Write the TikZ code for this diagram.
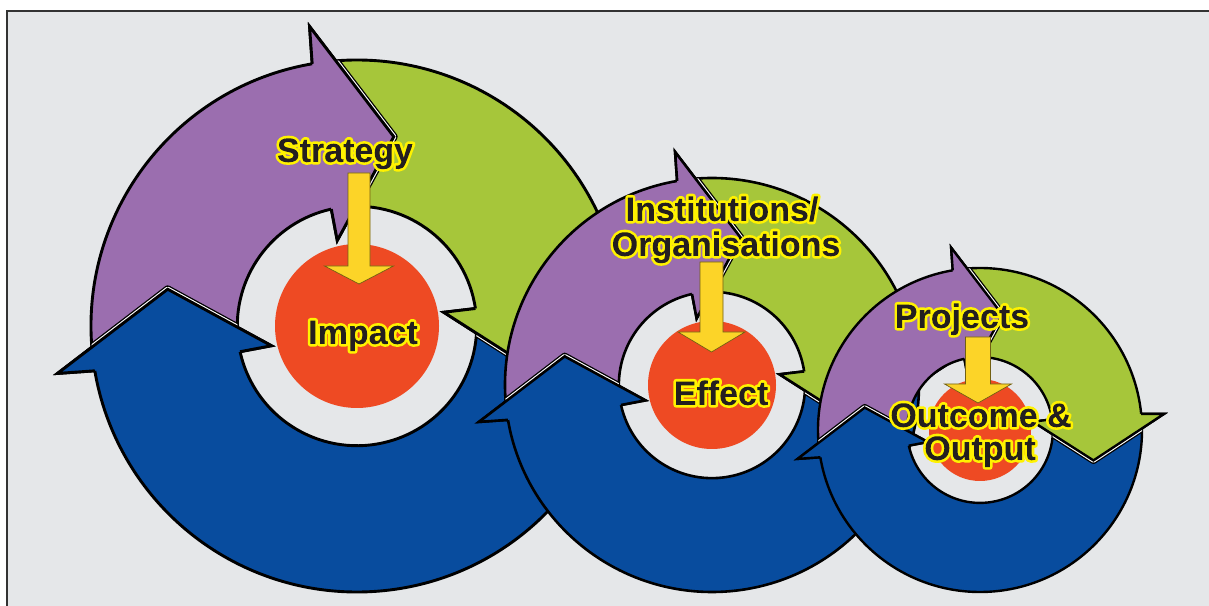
\documentclass[tikz,border=0pt]{standalone}
\usepackage{fontspec}
\setmainfont{Liberation Sans}
\definecolor{bg}{HTML}{E5E7E9}
\definecolor{framec}{HTML}{333333}
\definecolor{cpurple}{HTML}{9B6EAF}
\definecolor{cgreen}{HTML}{A6C63A}
\definecolor{cblue}{HTML}{084C9E}
\definecolor{cred}{HTML}{EE4A23}
\definecolor{cyellow}{HTML}{FCD428}
\definecolor{outl}{HTML}{FFF200}
\definecolor{ink}{HTML}{231F20}

% text with a yellow outline, set once: the glyphs are filled and stroked in yellow and
% become the clip, then a dark rule fills the glyph shapes
\newcommand\outl[1]{\sbox0{#1}%
  \special{x:gsave}%
  \special{pdf:literal direct 1 j 5.2 w 6 Tr}\textcolor{outl}{#1}\special{pdf:literal direct 0 Tr 0 j}%
  \llap{\textcolor{ink}{\rule[\dimexpr-\dp0-2pt\relax]{\wd0}{\dimexpr\ht0+\dp0+4pt\relax}}}%
  \special{x:grestore}}

\def\rw{2.4}
% body of one ring arrow: R, tail angle, tip angle
\newcommand\bodyp[3]{({#2}:{#1}) arc[start angle={#2}, end angle={#3+20.7}, radius={#1}]
  -- ({#3+20}:{1.14*#1}) -- ({#3}:{0.725*#1}) -- ({#3+24}:{0.33*#1})
  -- ({#3+23.4}:{0.45*#1}) arc[start angle={#3+23.4}, end angle={#2}, radius={0.45*#1}] -- cycle}
% head redrawn on top: colour, R, tip
\newcommand\headp[3]{%
  \fill[#1] ({#3+20.7}:{#2}) -- ({#3+20}:{1.14*#2}) -- ({#3}:{0.725*#2}) -- ({#3+24}:{0.33*#2}) -- ({#3+23.4}:{0.45*#2}) -- cycle;
  \draw[black, line width=\rw, line join=miter, miter limit=20] ({#3+20.7}:{#2}) -- ({#3+20}:{1.14*#2}) -- ({#3}:{0.725*#2}) -- ({#3+24}:{0.33*#2}) -- ({#3+23.4}:{0.45*#2});}
% white gap around a head, on the following arrow: R, tip, next tail, next tip
\newcommand\gapp[4]{%
  \begin{scope}
    \clip \bodyp{#1}{#3}{#4};
    \draw[black, line width=\rw+4.8, line join=round] ({#2+20}:{1.14*#1}) -- ({#2}:{0.725*#1}) -- ({#2+24}:{0.33*#1});
    \draw[white, line width=\rw+2.2, line join=round] ({#2+20}:{1.14*#1}) -- ({#2}:{0.725*#1}) -- ({#2+24}:{0.33*#1});
  \end{scope}}
% three arrows of one ring: R, outline width
\newcommand\ringarrows[2]{\def\rw{#2}%
  \filldraw[ring, fill=cpurple] \bodyp{#1}{186}{79};
  \filldraw[ring, fill=cgreen] \bodyp{#1}{96}{-15};
  \filldraw[ring, fill=cblue] \bodyp{#1}{2}{-191};
  \gapp{#1}{79}{96}{-15}\headp{cpurple}{#1}{79}
  \gapp{#1}{-15}{2}{-191}\headp{cgreen}{#1}{-15}
  \gapp{#1}{-191}{186}{79}\headp{cblue}{#1}{-191}}
% yellow block arrow: x, ytop, ybase, ytip, shaft half width, head half width
\newcommand\yarrow[6]{%
  \filldraw[yarr] ({#1-#5},#2) -- ({#1+#5},#2) -- ({#1+#5},#3) -- ({#1+#6},#3) -- (#1,#4) -- ({#1-#6},#3) -- ({#1-#5},#3) -- cycle;}

\tikzset{
  ring/.style={draw=black, line width=\rw, line join=miter},
  redc/.style={circle, fill=cred, inner sep=0, outer sep=0},
  lbl/.style={font=\fontsize{34}{34}\selectfont\bfseries, text=ink, inner sep=0, anchor=base},
  yarr/.style={fill=cyellow, draw=cyellow!45!black, line width=0.7, line join=miter},
}

\begin{document}
\begin{tikzpicture}[x=1pt, y=1pt]
\useasboundingbox (0,0) rectangle (1209,605);
\clip (0,0) rectangle (1209,605);
\fill[white] (0,0) rectangle (1209,605);
\filldraw[fill=bg, draw=framec, line width=2.5] (7,-20) rectangle (1230,594);

% ---- cycle 1 : Strategy / Impact
\begin{scope}[shift={(357,279)}]
  \ringarrows{266}{2.9}
\end{scope}
\node[redc, minimum size=164] (impactc) at (357,279) {};
\yarrow{359}{432}{339}{321}{11}{34.5}
\node[lbl] (strategy) at (345,443) {\outl{Strategy}};
\node[lbl] (impact) at (363,261) {\outl{Impact}};

% ---- cycle 2 : Institutions / Effect
\begin{scope}[shift={(712,220)}]
  \ringarrows{207}{2.6}
\end{scope}
\node[redc, minimum size=128] (effectc) at (712,220) {};
\yarrow{711.5}{343}{273}{253}{11.5}{33.5}
\node[lbl] (inst) at (722,384) {\outl{Institutions/}};
\node[lbl] (org) at (726,349) {\outl{Organisations}};
\node[lbl] (effect) at (721,200) {\outl{Effect}};

% ---- cycle 3 : Projects / Outcome
\begin{scope}[shift={(980,175)}]
  \ringarrows{162}{2.4}
\end{scope}
\node[redc, minimum size=102] (outc) at (980,175) {};
\yarrow{978}{268}{221}{202}{12.5}{33.5}
\node[lbl] (projects) at (962,277) {\outl{Projects}};
\node[lbl] (outcome) at (981,178) {\outl{Outcome \&}};
\node[lbl] (output) at (980,145) {\outl{Output}};
\end{tikzpicture}
\end{document}
